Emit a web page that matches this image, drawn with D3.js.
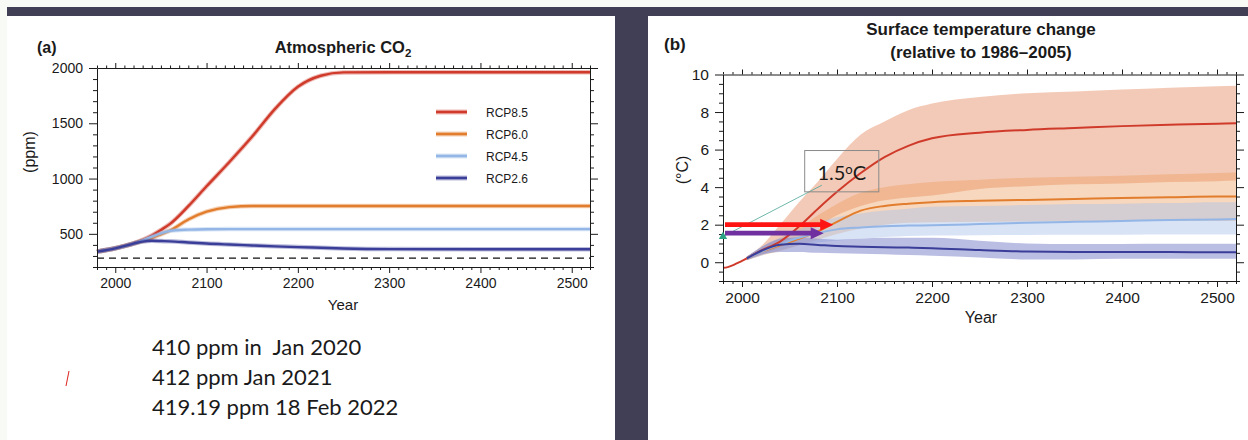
<!DOCTYPE html>
<html>
<head>
<meta charset="utf-8">
<script src="https://cdn.jsdelivr.net/npm/d3@7"></script>
<style>
  body { margin: 0; background: #f8faf6; }
  svg { display: block; }
  text { font-family: "Liberation Sans", Arial, sans-serif; fill: #1a1a1a; }
</style>
</head>
<body>
<svg id="chart" width="1248" height="440"></svg>
<script>
// ---- data: atmospheric CO2 (ppm) ----
var co2Years = [1980, 2000, 2020, 2030, 2040, 2050, 2060, 2080, 2100, 2125, 2150, 2175, 2200, 2225, 2250, 2300, 2400, 2520];
var co2Rcp85 = [339, 369, 413, 445, 485, 535, 590, 750, 930, 1150, 1380, 1630, 1830, 1930, 1960, 1962, 1962, 1962];
var co2Rcp60 = [339, 369, 412, 435, 462, 495, 530, 630, 700, 742, 752, 752, 752, 752, 752, 752, 752, 752];
var co2Rcp45 = [339, 369, 412, 440, 475, 505, 527, 538, 542, 543, 543, 543, 543, 543, 543, 543, 543, 543];
var co2Rcp26 = [339, 369, 412, 430, 437, 435, 432, 422, 412, 403, 395, 387, 380, 374, 368, 362, 360, 360];
var preindustrialCO2 = 280;

// ---- data: surface temperature change (°C, relative to 1986-2005) ----
var histYears = [1980, 1985, 1990, 1995, 2000, 2005];
var histTemp = [-0.3, -0.26, -0.17, -0.05, 0.07, 0.2];

var tYears = [2005, 2020, 2040, 2060, 2080, 2100, 2125, 2150, 2175, 2200, 2250, 2300, 2350, 2400, 2450, 2500, 2520];
var t85 =   [0.2, 0.62, 1.1, 1.9, 2.85, 3.75, 4.75, 5.6, 6.2, 6.6, 6.9, 7.05, 7.15, 7.25, 7.32, 7.38, 7.4];
var t85Hi = [0.3, 0.85, 2.0, 3.2, 4.3, 5.5, 6.8, 7.5, 8.1, 8.45, 8.8, 9.0, 9.1, 9.2, 9.3, 9.37, 9.4];
var t85Lo = [0.1, 0.4, 0.8, 1.3, 1.9, 2.5, 3.0, 3.3, 3.45, 3.55, 3.9, 4.05, 4.15, 4.2, 4.28, 4.32, 4.35];
var t60 =   [0.2, 0.55, 0.9, 1.25, 1.65, 2.15, 2.75, 3.0, 3.12, 3.2, 3.27, 3.32, 3.37, 3.42, 3.46, 3.5, 3.5];
var t60Hi = [0.3, 0.75, 1.3, 1.8, 2.5, 3.1, 3.7, 4.0, 4.15, 4.27, 4.4, 4.5, 4.55, 4.6, 4.68, 4.75, 4.78];
var t60Lo = [0.1, 0.35, 0.6, 0.9, 1.2, 1.5, 1.8, 2.0, 2.1, 2.13, 2.15, 2.17, 2.18, 2.19, 2.2, 2.2, 2.2];
var t45 =   [0.2, 0.55, 0.95, 1.3, 1.55, 1.75, 1.85, 1.92, 1.95, 1.97, 2.03, 2.1, 2.15, 2.2, 2.25, 2.28, 2.3];
var t45Hi = [0.3, 0.8, 1.3, 1.75, 2.1, 2.4, 2.6, 2.75, 2.85, 2.95, 3.0, 3.05, 3.1, 3.12, 3.15, 3.2, 3.2];
var t45Lo = [0.1, 0.35, 0.65, 0.9, 1.05, 1.15, 1.25, 1.35, 1.4, 1.42, 1.44, 1.45, 1.46, 1.47, 1.48, 1.48, 1.48];
var t26 =   [0.2, 0.6, 0.93, 0.98, 0.92, 0.86, 0.83, 0.8, 0.78, 0.75, 0.65, 0.57, 0.55, 0.54, 0.54, 0.53, 0.53];
var t26Hi = [0.3, 0.8, 1.25, 1.33, 1.25, 1.2, 1.25, 1.3, 1.3, 1.3, 1.15, 1.0, 0.97, 0.97, 0.98, 0.98, 0.98];
var t26Lo = [0.1, 0.4, 0.55, 0.55, 0.5, 0.48, 0.45, 0.42, 0.38, 0.35, 0.25, 0.15, 0.15, 0.18, 0.18, 0.18, 0.18];

// annotations on panel (b)
var arrowLevels = [2.0, 1.55];
var arrowEnds = [2096, 2086];
var markerPoint = [1980, 1.37];
var labelBox = [2066, 2144, 5.95, 3.75];   // x0, x1, yTop, yBottom
var leaderEnd = [2084, 4.1];

var scenarios = ["RCP8.5", "RCP6.0", "RCP4.5", "RCP2.6"];
var yearTicks = [2000, 2100, 2200, 2300, 2400, 2500];
var co2Ticks = [500, 1000, 1500, 2000];
var tempTicks = [0, 2, 4, 6, 8, 10];
var notes = ["410 ppm in  Jan 2020", "412 ppm Jan 2021", "419.19 ppm 18 Feb 2022"];

var lineColors = ["#cf3a2a", "#e27d2d", "#93b6e6", "#3b3e98"];
var bandColors = ["#e07a4a", "#eb9a5a", "#a9c0ea", "#8488cc"];
var bandOpacity = [0.4, 0.4, 0.45, 0.55];

var svg = d3.select("#chart");

// ---- slide background ----
svg.append("rect").attr("x", 7).attr("y", 7).attr("width", 1241).attr("height", 433).attr("fill", "#403f56");
svg.append("rect").attr("x", 7).attr("y", 16).attr("width", 608).attr("height", 424).attr("fill", "#ffffff");
svg.append("rect").attr("x", 648).attr("y", 16).attr("width", 600).attr("height", 424).attr("fill", "#ffffff");

function drawFrame(x, y, o) {
  var x0 = x.range()[0], x1 = x.range()[1], yb = y.range()[0], yt = y.range()[1];
  var xMinor = d3.range(1980, 2521, 10).filter(d => yearTicks.indexOf(d) < 0);
  var g = svg.append("g");

  function style(sel) {
    sel.attr("font-family", "'Liberation Sans', Arial, sans-serif")
       .attr("font-size", o.fontSize)
       .attr("color", "#1a1a1a");
  }
  // bottom
  g.append("g").attr("transform", "translate(0," + yb + ")")
    .call(d3.axisBottom(x).tickValues(yearTicks).tickSizeInner(6).tickSizeOuter(0)
      .tickPadding(o.xPad).tickFormat(d3.format("d"))).call(style);
  g.append("g").attr("transform", "translate(0," + yb + ")")
    .call(d3.axisBottom(x).tickValues(xMinor).tickSize(3).tickFormat(""))
    .call(s => s.select(".domain").remove()).call(style);
  // top
  g.append("g").attr("transform", "translate(0," + yt + ")")
    .call(d3.axisTop(x).tickValues(yearTicks).tickSizeInner(5).tickSizeOuter(0).tickFormat("")).call(style);
  g.append("g").attr("transform", "translate(0," + yt + ")")
    .call(d3.axisTop(x).tickValues(xMinor).tickSize(2.5).tickFormat(""))
    .call(s => s.select(".domain").remove()).call(style);
  // left
  g.append("g").attr("transform", "translate(" + x0 + ",0)")
    .call(d3.axisLeft(y).tickValues(o.yTicks).tickSizeInner(8).tickSizeOuter(0).tickPadding(6)
      .tickFormat(d3.format("d"))).call(style);
  g.append("g").attr("transform", "translate(" + x0 + ",0)")
    .call(d3.axisLeft(y).tickValues(o.yMinor).tickSize(4).tickFormat(""))
    .call(s => s.select(".domain").remove()).call(style);
  // right
  g.append("g").attr("transform", "translate(" + x1 + ",0)")
    .call(d3.axisRight(y).tickValues(o.yTicks).tickSizeInner(8).tickSizeOuter(0).tickFormat("")).call(style);
  g.append("g").attr("transform", "translate(" + x1 + ",0)")
    .call(d3.axisRight(y).tickValues(o.yMinor).tickSize(4).tickFormat(""))
    .call(s => s.select(".domain").remove()).call(style);
  g.selectAll("path.domain, line").attr("stroke", "#1a1a1a").attr("stroke-width", 1);
}

// =============== panel (a): atmospheric CO2 ===============
var xa = d3.scaleLinear().domain([1980, 2520]).range([97, 590]);
var ya = d3.scaleLinear().domain([200, 2000]).range([267, 68]);

svg.append("line")
  .attr("x1", xa(1980)).attr("x2", xa(2520))
  .attr("y1", ya(preindustrialCO2)).attr("y2", ya(preindustrialCO2))
  .attr("stroke", "#111").attr("stroke-width", 1.4).attr("stroke-dasharray", "7,5");

var co2Series = [co2Rcp85, co2Rcp60, co2Rcp45, co2Rcp26];
var co2Line = d3.line()
  .x((d, i) => xa(co2Years[i]))
  .y(d => ya(d))
  .curve(d3.curveMonotoneX);

co2Series.forEach(function(s, k) {
  svg.append("path").attr("d", co2Line(s)).attr("fill", "none")
    .attr("stroke", lineColors[k]).attr("stroke-opacity", 0.35).attr("stroke-width", 4.5);
  svg.append("path").attr("d", co2Line(s)).attr("fill", "none")
    .attr("stroke", lineColors[k]).attr("stroke-width", 2.4);
});

drawFrame(xa, ya, {
  yTicks: co2Ticks,
  yMinor: d3.range(200, 2001, 100).filter(d => co2Ticks.indexOf(d) < 0),
  fontSize: 14, xPad: 5
});

// legend
var legend = svg.append("g").attr("transform", "translate(436,112)");
scenarios.forEach(function(name, k) {
  var row = legend.append("g").attr("transform", "translate(0," + (k * 22) + ")");
  row.append("line").attr("x1", 0).attr("x2", 31).attr("stroke", lineColors[k])
    .attr("stroke-opacity", 0.35).attr("stroke-width", 5);
  row.append("line").attr("x1", 0).attr("x2", 31).attr("stroke", lineColors[k]).attr("stroke-width", 2.6);
  row.append("text").attr("x", 50).attr("y", 4.5).attr("font-size", 12).text(name);
});

// titles
svg.append("text").attr("x", 37).attr("y", 53).attr("font-size", 16).attr("font-weight", "bold").text("(a)");
var ta = svg.append("text").attr("x", 343).attr("y", 53).attr("text-anchor", "middle")
  .attr("font-size", 16.5).attr("font-weight", "bold");
ta.append("tspan").text("Atmospheric CO");
ta.append("tspan").attr("font-size", 11.5).attr("dy", 4).text("2");

svg.append("text").attr("x", 343).attr("y", 310).attr("text-anchor", "middle").attr("font-size", 15).text("Year");
svg.append("text").attr("transform", "translate(35,152) rotate(-90)").attr("text-anchor", "middle")
  .attr("font-size", 16).text("(ppm)");

// notes under panel (a)
notes.forEach(function(t, i) {
  svg.append("text").attr("x", 152).attr("y", 355 + i * 30)
    .style("font-family", "Lato, 'Open Sans', sans-serif").style("white-space", "pre")
    .attr("font-size", 22).attr("fill", "#111").text(t);
});
svg.append("line").attr("x1", 69).attr("y1", 371).attr("x2", 66).attr("y2", 386)
  .attr("stroke", "#e0302c").attr("stroke-width", 1.1);

// =============== panel (b): surface temperature ===============
var xb = d3.scaleLinear().domain([1980, 2520]).range([723, 1236]);
var yb = d3.scaleLinear().domain([-1, 10]).range([281, 74.5]);

var bands = [[t85Lo, t85Hi], [t60Lo, t60Hi], [t45Lo, t45Hi], [t26Lo, t26Hi]];
var band = d3.area()
  .x(d => xb(d.year))
  .y0(d => yb(d.lo))
  .y1(d => yb(d.hi))
  .curve(d3.curveMonotoneX);

bands.forEach(function(b, k) {
  var rows = tYears.map((yr, i) => ({year: yr, lo: b[0][i], hi: b[1][i]}));
  svg.append("path").attr("d", band(rows)).attr("fill", bandColors[k]).attr("fill-opacity", bandOpacity[k]);
});

var tLine = d3.line()
  .x((d, i) => xb(tYears[i]))
  .y(d => yb(d))
  .curve(d3.curveMonotoneX);
[t85, t60, t45, t26].forEach(function(s, k) {
  svg.append("path").attr("d", tLine(s)).attr("fill", "none")
    .attr("stroke", lineColors[k]).attr("stroke-width", 2);
});
svg.append("path")
  .attr("d", d3.line().x((d, i) => xb(histYears[i])).y(d => yb(d)).curve(d3.curveMonotoneX)(histTemp))
  .attr("fill", "none").attr("stroke", lineColors[0]).attr("stroke-width", 2);

drawFrame(xb, yb, {
  yTicks: tempTicks,
  yMinor: d3.range(-1, 10.01, 0.5).filter(d => tempTicks.indexOf(d) < 0),
  fontSize: 15.5, xPad: 5
});

// titles
svg.append("text").attr("x", 664).attr("y", 50).attr("font-size", 17).attr("font-weight", "bold").text("(b)");
svg.append("text").attr("x", 981).attr("y", 35).attr("text-anchor", "middle")
  .attr("font-size", 17).attr("font-weight", "bold").text("Surface temperature change");
svg.append("text").attr("x", 981).attr("y", 58).attr("text-anchor", "middle")
  .attr("font-size", 17).attr("font-weight", "bold").text("(relative to 1986\u20132005)");
svg.append("text").attr("x", 981).attr("y", 323).attr("text-anchor", "middle").attr("font-size", 16).text("Year");
svg.append("text").attr("transform", "translate(688,170) rotate(-90)").attr("text-anchor", "middle")
  .attr("font-size", 16).text("(\u00b0C)");

// 1.5 °C box and leader line
svg.append("line")
  .attr("x1", xb(markerPoint[0])).attr("y1", yb(markerPoint[1]))
  .attr("x2", xb(leaderEnd[0])).attr("y2", yb(leaderEnd[1]))
  .attr("stroke", "#4aa596").attr("stroke-width", 0.8);
svg.append("rect")
  .attr("x", xb(labelBox[0])).attr("y", yb(labelBox[2]))
  .attr("width", xb(labelBox[1]) - xb(labelBox[0])).attr("height", yb(labelBox[3]) - yb(labelBox[2]))
  .attr("fill", "none").attr("stroke", "#8a8a8a").attr("stroke-width", 1);
var lab = svg.append("text").attr("x", (xb(labelBox[0]) + xb(labelBox[1])) / 2).attr("y", yb(labelBox[3]) - 12)
  .attr("text-anchor", "middle").style("font-family", "Lato, 'Open Sans', sans-serif").attr("font-size", 20).attr("fill", "#111");
lab.append("tspan").text("1.5");
lab.append("tspan").attr("font-size", 13).attr("dy", -6).text("o");
lab.append("tspan").attr("dy", 6).text("C");

// arrows
var arrowColors = ["#ff1414", "#7030a0"];
arrowLevels.forEach(function(lv, k) {
  var xs = xb(1980) + 2, xe = xb(arrowEnds[k]), yc = yb(lv), hl = 13;
  var pts = [[xs, yc - 2.4], [xe - hl, yc - 2.4], [xe - hl, yc - 6], [xe, yc],
             [xe - hl, yc + 6], [xe - hl, yc + 2.4], [xs, yc + 2.4]];
  svg.append("path").attr("d", d3.line()(pts) + "Z").attr("fill", arrowColors[k]);
});

// marker triangle on axis
svg.append("path")
  .attr("d", d3.symbol().type(d3.symbolTriangle).size(30)())
  .attr("transform", "translate(" + xb(markerPoint[0]) + "," + yb(markerPoint[1]) + ")")
  .attr("fill", "#2ca083");
</script>
</body>
</html>
